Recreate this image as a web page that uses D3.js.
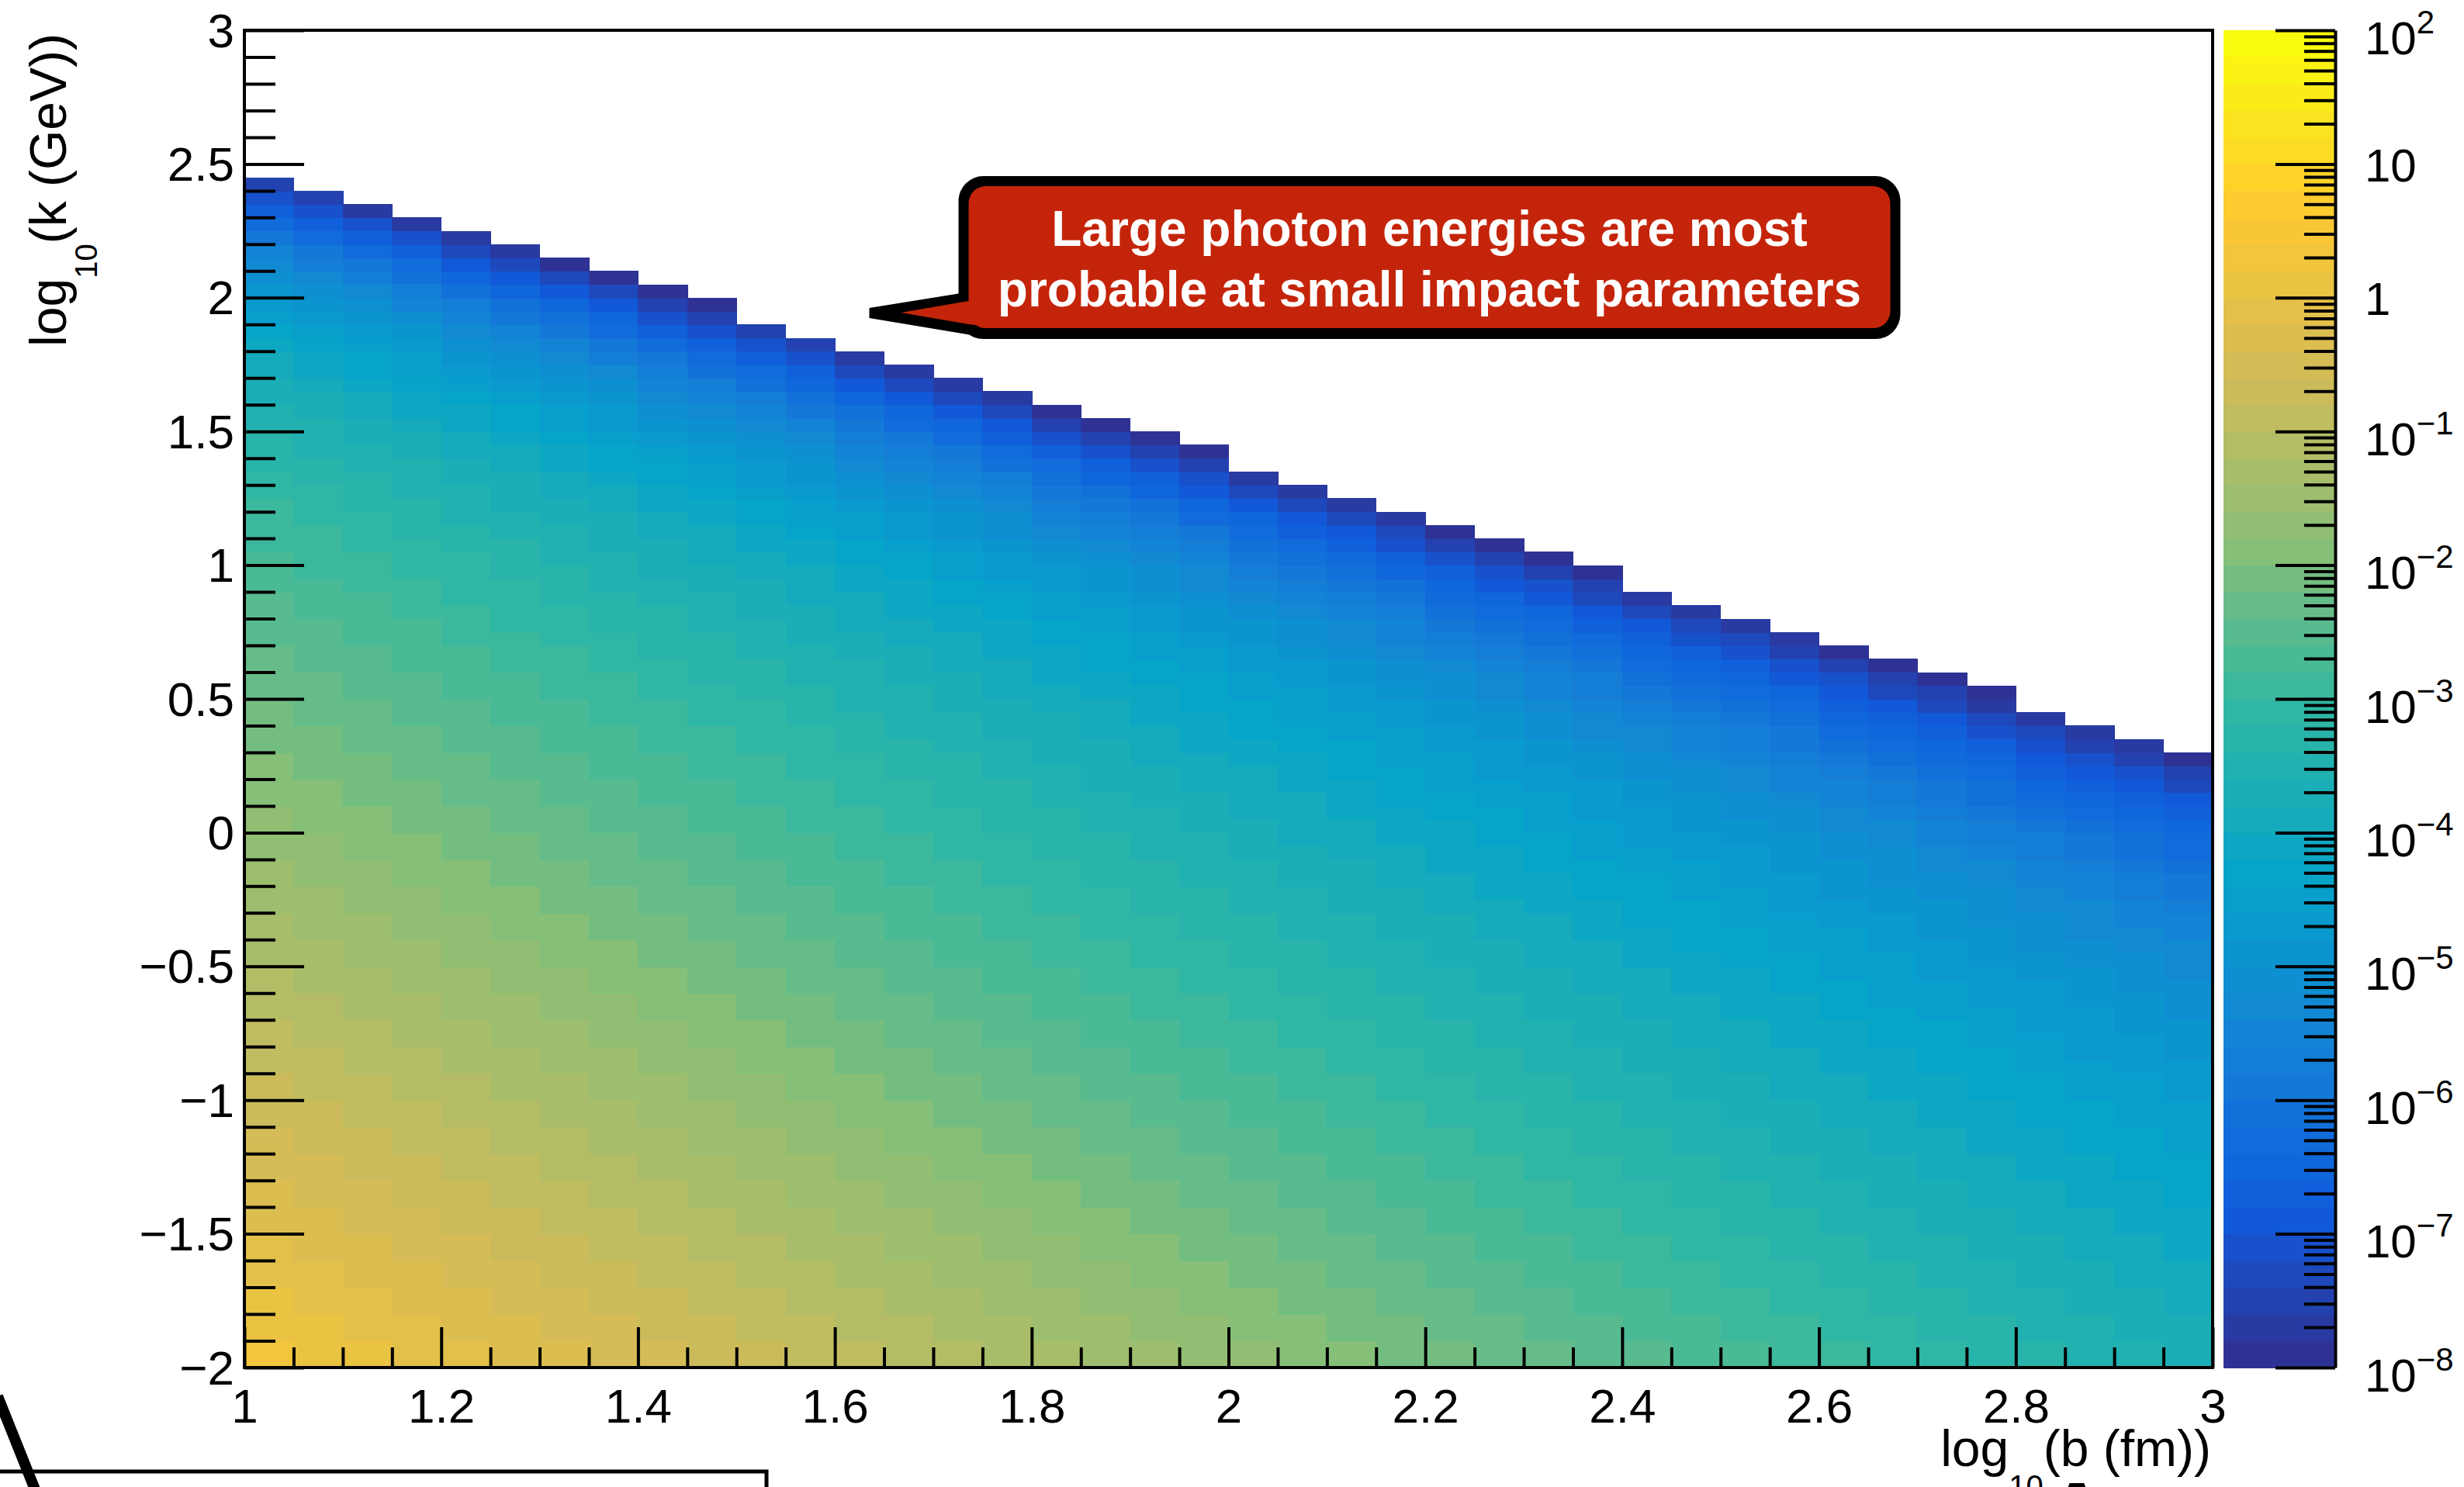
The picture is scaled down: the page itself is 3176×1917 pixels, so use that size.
<!DOCTYPE html>
<html><head><meta charset="utf-8">
<script src="https://cdn.jsdelivr.net/npm/d3@7"></script>
<style>
html,body{margin:0;padding:0;background:#fff;}
svg{display:block;}
text{font-family:"Liberation Sans",Arial,Helvetica,sans-serif;}
</style></head><body>
<svg id="chart" width="3176" height="1917"></svg>
<script>
// ---------------- data ----------------
// bin edges: log10(b / fm) and log10(k / GeV)
const bLogEdges = [1.00,1.05,1.10,1.15,1.20,1.25,1.30,1.35,1.40,1.45,1.50,1.55,1.60,1.65,1.70,1.75,1.80,1.85,1.90,1.95,2.00,2.05,2.10,2.15,2.20,2.25,2.30,2.35,2.40,2.45,2.50,2.55,2.60,2.65,2.70,2.75,2.80,2.85,2.90,2.95,3.00];
const kLogEdges = [-2.00,-1.95,-1.90,-1.85,-1.80,-1.75,-1.70,-1.65,-1.60,-1.55,-1.50,-1.45,-1.40,-1.35,-1.30,-1.25,-1.20,-1.15,-1.10,-1.05,-1.00,-0.95,-0.90,-0.85,-0.80,-0.75,-0.70,-0.65,-0.60,-0.55,-0.50,-0.45,-0.40,-0.35,-0.30,-0.25,-0.20,-0.15,-0.10,-0.05,0.00,0.05,0.10,0.15,0.20,0.25,0.30,0.35,0.40,0.45,0.50,0.55,0.60,0.65,0.70,0.75,0.80,0.85,0.90,0.95,1.00,1.05,1.10,1.15,1.20,1.25,1.30,1.35,1.40,1.45,1.50,1.55,1.60,1.65,1.70,1.75,1.80,1.85,1.90,1.95,2.00,2.05,2.10,2.15,2.20,2.25,2.30,2.35,2.40,2.45];
// cell contents as colour-contour level (one char per b-bin, rows from log10 k = -2 upwards)
// level L means log10(z) in [zLogMin + L*zLogStep, zLogMin + (L+1)*zLogStep); '.' / missing = empty
const zLevelCodes = "0123456789ABCDEFGHIJKLMNOPQRSTUVWXYZabcdefghijklmn";
const zLogMin = -8;
const zLogStep = 0.2;
const zLevelRows = [
"feeddccbbaaZZYYXXWWVVUUTTSSRRQQPPOONNMML",
"feeddccbbaaZZYYXXWWVVUUTTSSRRQQPPOONNMML",
"eeddccbbaaZZYYXXWWVVUUTTSSRRQQPPOONNMMLL",
"eeddccbbaaZZYYXXWWVVUUTTSSRRQQPPOONNMMLL",
"eddccbbaaZZYYXXWWVVUUTTSSRRQQPPOONNMMLLK",
"eddccbbaaZZYYXXWWVVUUTTSSRRQQPPOONNMMLLK",
"ddccbbaaZZYYXXWWVVUUTTSSRRQQPPOONNMMLLKK",
"ddccbbaaZZYYXXWWVVUUTTSSRRQQPPOONNMMLLKK",
"dccbbaaZZYYXXWWVVUUTTSSRRQQPPOONNMMLLKKJ",
"dccbbaaZZYYXXWWVVUUTTSSRRQQPPOONNMMLLKKJ",
"ccbbaaZZYYXXWWVVUUTTSSRRQQPPOONNMMLLKKJJ",
"ccbbaaZZYYXXWWVVUUTTSSRRQQPPOONNMMLLKKJJ",
"cbbaaZZYYXXWWVVUUTTSSRRQQPPOONNMMLLKKJJI",
"cbbaaZZYYXXWWVVUUTTSSRRQQPPOONNMMLLKKJJI",
"bbaaZZYYXXWWVVUUTTSSRRQQPPOONNMMLLKKJJII",
"bbaaZZYYXXWWVVUUTTSSRRQQPPOONNMMLLKKJJII",
"baaZZYYXXWWVVUUTTSSRRQQPPOONNMMLLKKJJIIH",
"baaZZYYXXWWVVUUTTSSRRQQPPOONNMMLLKKJJIIH",
"aaZZYYXXWWVVUUTTSSRRQQPPOONNMMLLKKJJIIHH",
"aaZZYYXXWWVVUUTTSSRRQQPPOONNMMLLKKJJIIHH",
"aZZYYXXWWVVUUTTSSRRQQPPOONNMMLLKKJJIIHHG",
"aZZYYXXWWVVUUTTSSRRQQPPOONNMMLLKKJJIIHHG",
"ZZYYXXWWVVUUTTSSRRQQPPOONNMMLLKKJJIIHHGG",
"ZZYYXXWWVVUUTTSSRRQQPPOONNMMLLKKJJIIHGGF",
"ZYYXXWWVVUUTTSSRRQQPPOONNMMLLKKJJIIHHGGF",
"ZYYXXWWVVUUTTSSRRQQPPOONNMMLLKKJJIIHGGFF",
"YYXXWWVVUUTTSSRRQQPPOONNMMLLKKJJIIHHGGFE",
"YYXXWWVVUUTTSSRRQQPPOONNMMLLKKJJIHHGGFFE",
"YXXWWVVUUTTSSRRQQPPOONNMMLLKKJJIIHHGGFEE",
"YXXWWVVUUTTSSRRQQPPOONNMMLLKKJJIHHGGFFED",
"XXWWVVUUTTSSRRQQPPOONNMMLLKKJJIIHHGFFEED",
"XXWWVVUUTTSSRRQQPPOONNMMLLKKJIIHHGGFEEDD",
"XWWVVUUTTSSRRQQPPOONNMMLLKKJJIIHHGFFEDDC",
"XWWVVUUTTSSRRQQPPOONNMMLLKKJIIHHGGFEEDCC",
"WWVVUUTTSSRRQQPPOONNMMLLKKJJIIHGGFFEDDCB",
"WWVVUUTTSSRRQQPPOONNMMLLKJJIIHHGFFEEDCBA",
"WVVUUTTSSRRQQPPOONNMMLLKKJJIIHGGFEEDCCBA",
"WVVUUTTSSRRQQPPOONNMMLLKJJIIHHGFFEDDCBA9",
"VVUUTTSSRRQQPPOONNMMLLKKJJIHHGGFEEDCBA98",
"VVUUTTSSRRQQPPOONNMMLKKJJIIHGGFFEDCBBA98",
"VUUTTSSRRQQPPOONNMMLLKKJJIHHGFFEDDCBA987",
"VUUTTSSRRQQPPOONNMMLKKJJIIHGGFEEDCBA9876",
"UUTTSSRRQQPPOONNMMLLKKJIIHHGFFEDCBA98765",
"UUTTSSRRQQPPOONNMLLKKJJIHHGGFEDCCBA97653",
"UTTSSRRQQPPOONNMMLLKKJIIHGGFEEDCBA986542",
"UTTSSRRQQPPOONNMLLKKJJIHHGFFEDCBA9875420",
"TTSSRRQQPPOONNMMLLKJJIIHGGFEDCBA9876421",
"TTSSRRQQPPOONMMLLKKJIIHHGFEDDCBA876431",
"TSSRRQQPPOONNMMLLKJJIHHGFFEDCBA976531",
"TSSRRQQPPOONMMLLKKJIIHGGFEDCBA986531",
"SSRRQQPPOONNMMLKKJJIHHGFEDCBA9875320",
"SSRRQQPPONNMMLLKJJIIHGFEEDCB9875420",
"SRRQQPPOONNMMLKKJIIHGGFEDCBA876420",
"SRRQQPPONNMMLLKJJIHHGFEDCBA976420",
"RRQQPPOONNMLLKKJIIHGFEDCBA986431",
"RRQQPOONNMMLKKJJIHGFFEDCA986531",
"RQQPPOONNMLLKJJIHHGFEDCB987531",
"RQQPOONNMMLKKJIIHGFEDCBA87531",
"QQPPOONMMLLKJJIHGFEDCBA97542",
"QPPOONNMLLKKJIHGGFEDBA976420",
"QPPOONMMLKKJIIHGFEDCA986420",
"PPOONNMLLKJJIHGFEDCB986420",
"PPONNMMLKKJIHGFEDCBA86530",
"POONMMLLKJIHHGFECBA87531",
"PONNMLLKJJIHGFEDBA97531",
"OONMMLKKJIHGFEDCA97531",
"ONNMLLKJIHGFEDCB97641",
"NNMMLKJIIHGFDCB98642",
"NMMLKKJIHGFECBA86420",
"NMLLKJIHGFEDBA86420",
"MMLKJIHGFEDCA87520",
"MLKJJIHGEDCA97530",
"LLKJIHGFDCB97531",
"LKJIHGFECB97531",
"KJIHGFEDB98631",
"KJIHFEDBA8641",
"JIHGEDCA8642",
"IHGFDCA8642",
"HGFECA9742",
"GFECB97520",
"FEDB97530",
"EDB97530",
"DBA8530",
"CA8631",
"A8641",
"8641",
"641",
"42",
"2"
];
// axis ticks and labels
const xTickValues = [1,1.2,1.4,1.6,1.8,2,2.2,2.4,2.6,2.8,3];
const xTickLabels = ["1","1.2","1.4","1.6","1.8","2","2.2","2.4","2.6","2.8","3"];
const yTickValues = [-2,-1.5,-1,-0.5,0,0.5,1,1.5,2,2.5,3];
const yTickLabels = ["\u22122","\u22121.5","\u22121","\u22120.5","0","0.5","1","1.5","2","2.5","3"];
const zTickValues = [1e-8,1e-7,1e-6,1e-5,1e-4,1e-3,1e-2,1e-1,1,10,100];
const zTickBase = ["10","10","10","10","10","10","10","10","1","10","10"];
const zTickExp = ["\u22128","\u22127","\u22126","\u22125","\u22124","\u22123","\u22122","\u22121","","","2"];
const xTitleParts = ["log","10","(b (fm))"];
const yTitleParts = ["log","10","(k (GeV))"];
const calloutLines = ["Large photon energies are most","probable at small impact parameters"];
const calloutTip = [1.635, 1.947]; // data coordinates the callout points at

// ---------------- drawing ----------------
const svg = d3.select("#chart");
const frame = {left:315, right:2852, top:39, bottom:1763};
const x = d3.scaleLinear().domain([1,3]).range([frame.left, frame.right]);
const y = d3.scaleLinear().domain([-2,3]).range([frame.bottom, frame.top]);
const z = d3.scaleLog().domain([1e-8,1e2]).range([frame.bottom, frame.top]);

// ROOT kBird palette, 50 contours
const birdStops = [0,0.125,0.25,0.375,0.5,0.625,0.75,0.875,1];
const birdR = [0.2082,0.0592,0.0780,0.0232,0.1802,0.5301,0.8186,0.9956,0.9764];
const birdG = [0.1664,0.3599,0.5041,0.6419,0.7178,0.7492,0.7328,0.7862,0.9832];
const birdB = [0.5293,0.8684,0.8385,0.7914,0.6425,0.4662,0.3499,0.1968,0.0539];
const bird = d3.scaleLinear().domain(birdStops)
  .range(birdStops.map((s,i)=>d3.rgb(birdR[i]*255,birdG[i]*255,birdB[i]*255).toString()))
  .interpolate(d3.interpolateRgb);
const nLevels = 50;
const levelColors = d3.range(nLevels).map(i=>bird(Math.floor((i+0.99)*255/nLevels)/254));
const color = d3.scaleQuantize().domain([zLogMin, zLogMin + zLogStep*nLevels]).range(levelColors);

// cells
const cells = [];
zLevelRows.forEach((row,r)=>{
  for (let c=0;c<row.length;c++){
    const ch=row[c]; if (ch==='.') continue;
    const lev=zLevelCodes.indexOf(ch);
    cells.push({b0:bLogEdges[c], b1:bLogEdges[c+1], k0:kLogEdges[r], k1:kLogEdges[r+1],
                value:Math.pow(10, zLogMin + zLogStep*(lev+0.5))});
  }
});
svg.append("g").attr("shape-rendering","crispEdges")
  .selectAll("rect").data(cells).join("rect")
  .attr("x",d=>x(d.b0)).attr("y",d=>y(d.k1))
  .attr("width",d=>x(d.b1)-x(d.b0)+0.7)
  .attr("height",d=>y(d.k0)-y(d.k1)+0.7)
  .attr("fill",d=>color(Math.log10(d.value)));

// colour bar
const cbLeft = 2866, cbRight = 3010;
svg.append("g").attr("shape-rendering","crispEdges")
  .selectAll("rect").data(levelColors).join("rect")
  .attr("x",cbLeft).attr("width",cbRight-cbLeft)
  .attr("y",(d,i)=>z(Math.pow(10,zLogMin+zLogStep*(i+1))))
  .attr("height",(d,i)=>z(Math.pow(10,zLogMin+zLogStep*i))-z(Math.pow(10,zLogMin+zLogStep*(i+1)))+0.6)
  .attr("fill",d=>d);

function minorBetween(majors,n){const out=[];for(let i=0;i<majors.length-1;i++){for(let m=1;m<n;m++)out.push(majors[i]+(majors[i+1]-majors[i])*m/n);}return out;}
function styleTicks(g){g.selectAll("line").attr("stroke","#000").attr("stroke-width",4);}
const fontFam = '"Liberation Sans",Arial,Helvetica,sans-serif';

// x axis
const gxMinor = svg.append("g").attr("transform",`translate(0,${frame.bottom})`)
  .call(d3.axisBottom(x).tickValues(minorBetween(xTickValues,4)).tickSize(-26).tickSizeOuter(0).tickFormat(""));
gxMinor.select(".domain").remove(); styleTicks(gxMinor);
const gx = svg.append("g").attr("transform",`translate(0,${frame.bottom})`)
  .call(d3.axisBottom(x).tickValues(xTickValues).tickSize(-52).tickSizeOuter(0).tickPadding(27)
    .tickFormat((d,i)=>xTickLabels[i]));
gx.select(".domain").remove(); styleTicks(gx);
gx.attr("font-size",62).attr("font-family",fontFam);
gx.selectAll("text").attr("fill","#000").attr("dy","0.71em");

// y axis
const gyMinor = svg.append("g").attr("transform",`translate(${frame.left},0)`)
  .call(d3.axisLeft(y).tickValues(minorBetween(yTickValues,5)).tickSize(-40).tickSizeOuter(0).tickFormat(""));
gyMinor.select(".domain").remove(); styleTicks(gyMinor);
const gy = svg.append("g").attr("transform",`translate(${frame.left},0)`)
  .call(d3.axisLeft(y).tickValues(yTickValues).tickSize(-77).tickSizeOuter(0).tickPadding(13)
    .tickFormat((d,i)=>yTickLabels[i]));
gy.select(".domain").remove(); styleTicks(gy);
gy.attr("font-size",62).attr("font-family",fontFam);
gy.selectAll("text").attr("fill","#000").attr("dy","0.34em");

// frame
svg.append("rect").attr("x",frame.left).attr("y",frame.top)
  .attr("width",frame.right-frame.left).attr("height",frame.bottom-frame.top)
  .attr("fill","none").attr("stroke","#000").attr("stroke-width",4);

// colour-bar axis
const zMinor=[]; zTickValues.slice(0,-1).forEach(v=>{for(let m=2;m<=9;m++)zMinor.push(v*m);});
const gzMinor = svg.append("g").attr("transform",`translate(${cbRight},0)`)
  .call(d3.axisRight(z).tickValues(zMinor).tickSize(-40).tickSizeOuter(0).tickFormat(""));
gzMinor.select(".domain").remove(); styleTicks(gzMinor);
const gz = svg.append("g").attr("transform",`translate(${cbRight},0)`)
  .call(d3.axisRight(z).tickValues(zTickValues).tickSize(-77).tickSizeOuter(0).tickPadding(38)
    .tickFormat((d,i)=>zTickBase[i]));
styleTicks(gz);
gz.select(".domain").attr("stroke","#000").attr("stroke-width",4);
gz.attr("font-size",60).attr("font-family",fontFam);
gz.selectAll(".tick text").each(function(d,i){
  const t=d3.select(this); t.text(null).attr("fill","#000");
  const exp=zTickExp[i];
  t.attr("dy", exp ? 30 : 22);
  t.append("tspan").text(zTickBase[i]);
  if (exp) t.append("tspan").attr("font-size",42).attr("dy",-27).text(exp);
});

// axis titles
function titleText(sel, parts){
  sel.append("tspan").text(parts[0]);
  sel.append("tspan").attr("font-size",40).attr("dy",40).text(parts[1]);
  sel.append("tspan").attr("dy",-40).text(parts[2]);
}
const xt = svg.append("text").attr("x",2850).attr("y",1890).attr("text-anchor","end")
  .attr("font-size",66).attr("fill","#000");
titleText(xt, xTitleParts);
const yt = svg.append("text").attr("transform","translate(85,43) rotate(-90)").attr("text-anchor","end")
  .attr("font-size",66).attr("fill","#000");
titleText(yt, yTitleParts);

// callout
const tx = x(calloutTip[0]), ty = y(calloutTip[1]);
const call = svg.append("g");
call.append("rect").attr("x",tx+115).attr("y",ty-175).attr("width",1214).attr("height",210)
  .attr("rx",32).attr("fill","#000");
call.append("polygon").attr("points",[[tx+118,ty-24],[tx,ty-5],[tx,ty+8],[tx+132,ty+30],[tx+132,ty-24]].map(p=>p.join(",")).join(" "))
  .attr("fill","#000");
call.append("rect").attr("x",tx+128).attr("y",ty-162).attr("width",1188).attr("height",183)
  .attr("rx",22).attr("fill","#C4250A");
call.append("polygon").attr("points",[[tx+156,ty-14],[tx+128,ty-14],[tx+41,ty+1],[tx+128,ty+16],[tx+156,ty+19]].map(p=>p.join(",")).join(" "))
  .attr("fill","#C4250A");
call.selectAll("text.cl").data(calloutLines).join("text").attr("class","cl")
  .attr("x",tx+722).attr("y",(d,i)=>ty-85+i*78)
  .attr("text-anchor","middle").attr("font-size",64).attr("font-weight","bold")
  .attr("fill","#fff").text(d=>d);

// cropped slide elements at the picture edge
svg.append("path").attr("d","M0,1897H988V1920").attr("fill","none").attr("stroke","#000").attr("stroke-width",5);
svg.append("line").attr("x1",-3).attr("y1",1800).attr("x2",45).attr("y2",1920)
  .attr("stroke","#000").attr("stroke-width",14);
svg.append("text").attr("x",2677).attr("y",1987).attr("text-anchor","middle")
  .attr("font-size",110).attr("font-weight","bold").attr("fill","#000").text("A");
</script>
</body></html>
